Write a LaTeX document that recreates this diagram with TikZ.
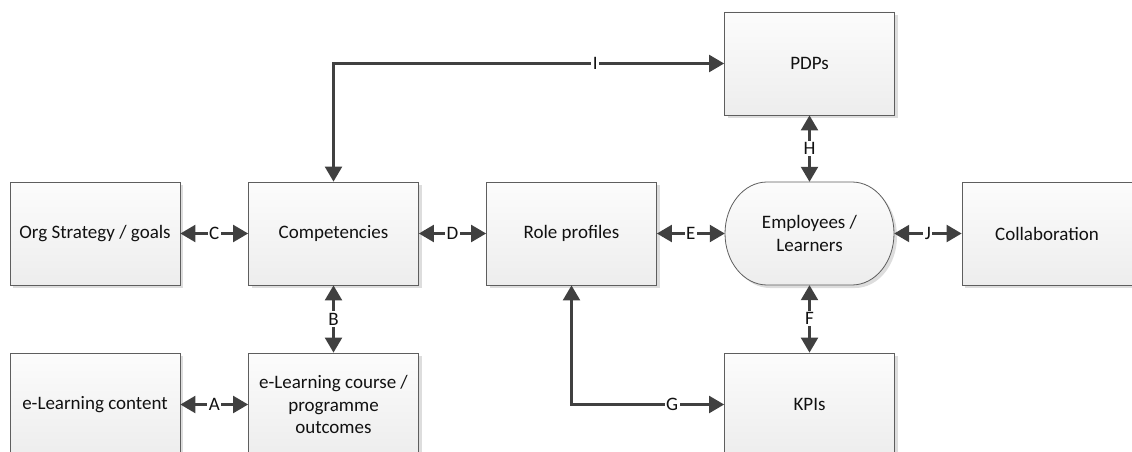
\documentclass[tikz,border=0pt]{standalone}
\usepackage{fontspec}
\setmainfont{Carlito}
\usetikzlibrary{arrows.meta,shadows}
\definecolor{ln}{HTML}{404040}
\definecolor{bd}{HTML}{5E5E5E}
\definecolor{gtop}{HTML}{FCFCFC}
\definecolor{gbot}{HTML}{EDEDED}
\definecolor{shd}{HTML}{DDDDDD}
\definecolor{tx}{HTML}{111111}
\begin{document}
\begin{tikzpicture}[x=1pt,y=-1pt,
  txt/.style={font=\fontsize{19}{22.5}\selectfont, text=tx},
  box/.style={txt, draw=bd, line width=0.8pt, top color=gtop, bottom color=gbot,
    minimum width=170pt, minimum height=103pt, inner sep=2pt, align=center,
    drop shadow={shadow xshift=3pt, shadow yshift=-3pt, fill=shd, opacity=1}},
  conn/.style={draw=ln, line width=2.3pt, {Triangle[length=15pt,width=17pt]}-{Triangle[length=15pt,width=17pt]}},
  lab/.style={txt, fill=white, inner sep=1.5pt}
]
\useasboundingbox (0,0) rectangle (1132,452);
\clip (0,0) rectangle (1132,452);

% nodes
\node[box] (org) at (95,233.5) {Org Strategy / goals};
\node[box] (comp) at (333.5,233.5) {Competencies};
\node[box] (role) at (571.5,233.5) {Role profiles};
\node[box] (collab) at (1047,233.5) {Collaboration};
\node[box] (pdp) at (809.5,63.5) {PDPs};
\node[box] (elc) at (95,404.5) {e-Learning content};
\node[box] (course) at (333.5,404.5) {e-Learning course /\\ programme\\ outcomes};
\node[box] (kpi) at (809.5,404.5) {KPIs};

% Employees / Learners (rounded terminator shape)
\fill[shd] (770,185) -- (855,185) arc[start angle=-90,end angle=90,x radius=42,y radius=51.5]
  -- (770,288) arc[start angle=90,end angle=270,x radius=42,y radius=51.5] -- cycle;
\path[draw=bd, line width=0.8pt, top color=gtop, bottom color=gbot]
  (767,182) -- (852,182) arc[start angle=-90,end angle=90,x radius=42,y radius=51.5]
  -- (767,285) arc[start angle=90,end angle=270,x radius=42,y radius=51.5] -- cycle;
\node[txt, align=center, inner sep=0pt, minimum width=169pt, minimum height=103pt] (emp) at (809.5,233.5) {Employees /\\ Learners};

% connectors
\draw[conn] (elc.east) -- node[lab] {A} (course.west);
\draw[conn] (comp.south) -- node[lab] {B} (course.north);
\draw[conn] (org.east) -- node[lab] {C} (comp.west);
\draw[conn] (comp.east) -- node[lab] {D} (role.west);
\draw[conn] (role.east) -- node[lab] {E} (emp.west);
\draw[conn] (emp.south) -- node[lab] {F} (kpi.north);
\draw[conn] (role.south) |- node[lab, pos=0.83] {G} (kpi.west);
\draw[conn] (pdp.south) -- node[lab] {H} (emp.north);
\draw[conn] (comp.north) |- node[lab, pos=0.835] {I} (pdp.west);
\draw[conn] (emp.east) -- node[lab] {J} (collab.west);
\end{tikzpicture}
\end{document}
